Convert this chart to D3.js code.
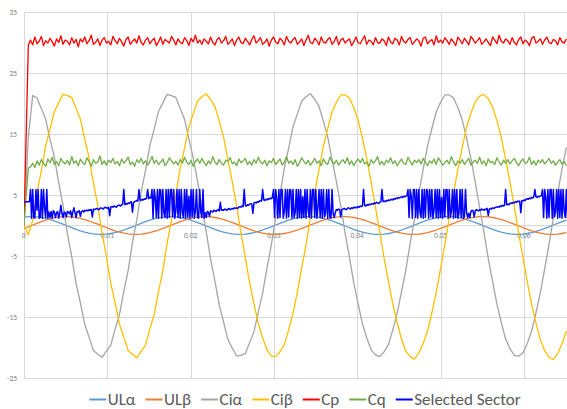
<!DOCTYPE html>
<html>
<head>
<meta charset="utf-8">
<script src="https://cdn.jsdelivr.net/npm/d3@7/dist/d3.min.js"></script>
<style>
  body { margin: 0; background: #fff; }
  svg { display: block; }
</style>
</head>
<body>
<div id="chart"></div>
<script>
// sample steps in seconds (smooth signals / noisy signals / sector signal)
var stepSlow = 1 / 1920;
var stepFast = 1 / 3840;
var stepSector = 1 / 7680;

var xTicks = [0, 0.01, 0.02, 0.03, 0.04, 0.05, 0.06];
var xTickLabels = ["0", "0.01", "0.02", "0.03", "0.04", "0.05", "0.06"];
var yTicks = [-25, -15, -5, 5, 15, 25, 35];

var names = ["ULα", "ULβ", "Ciα", "Ciβ", "Cp", "Cq", "Selected Sector"];
var colors = ["#5B9BD5", "#ED7D31", "#A5A5A5", "#FFC000", "#FF0000", "#70AD47", "#0000FF"];

var ulAlpha = [
  1.37, 1.44, 1.45, 1.41, 1.31, 1.16, 0.97, 0.74, 0.48, 0.21, -0.08, -0.36, -0.63, -0.87, -1.08, -1.25,
  -1.37, -1.44, -1.45, -1.41, -1.31, -1.16, -0.97, -0.74, -0.48, -0.21, 0.08, 0.36, 0.63, 0.87, 1.08, 1.25,
  1.37, 1.44, 1.45, 1.41, 1.31, 1.16, 0.97, 0.74, 0.48, 0.21, -0.08, -0.36, -0.63, -0.87, -1.08, -1.25,
  -1.37, -1.44, -1.45, -1.41, -1.31, -1.16, -0.97, -0.74, -0.48, -0.21, 0.08, 0.36, 0.63, 0.87, 1.08, 1.25,
  1.37, 1.44, 1.45, 1.41, 1.31, 1.16, 0.97, 0.74, 0.48, 0.21, -0.08, -0.36, -0.63, -0.87, -1.08, -1.25,
  -1.37, -1.44, -1.45, -1.41, -1.31, -1.16, -0.97, -0.74, -0.48, -0.21, 0.08, 0.36, 0.63, 0.87, 1.08, 1.25,
  1.37, 1.44, 1.45, 1.41, 1.31, 1.16, 0.97, 0.74, 0.48, 0.21, -0.08, -0.36, -0.63, -0.87, -1.08, -1.25,
  -1.37, -1.44, -1.45, -1.41, -1.31, -1.16, -0.97, -0.74, -0.48, -0.21, 0.08, 0.36, 0.63, 0.87
];
var ulBeta = [
  -0.48, -0.21, 0.08, 0.36, 0.63, 0.87, 1.08, 1.25, 1.37, 1.44, 1.45, 1.41, 1.31, 1.16, 0.97, 0.74,
  0.48, 0.21, -0.08, -0.36, -0.63, -0.87, -1.08, -1.25, -1.37, -1.44, -1.45, -1.41, -1.31, -1.16, -0.97, -0.74,
  -0.48, -0.21, 0.08, 0.36, 0.63, 0.87, 1.08, 1.25, 1.37, 1.44, 1.45, 1.41, 1.31, 1.16, 0.97, 0.74,
  0.48, 0.21, -0.08, -0.36, -0.63, -0.87, -1.08, -1.25, -1.37, -1.44, -1.45, -1.41, -1.31, -1.16, -0.97, -0.74,
  -0.48, -0.21, 0.08, 0.36, 0.63, 0.87, 1.08, 1.25, 1.37, 1.44, 1.45, 1.41, 1.31, 1.16, 0.97, 0.74,
  0.48, 0.21, -0.08, -0.36, -0.63, -0.87, -1.08, -1.25, -1.37, -1.44, -1.45, -1.41, -1.31, -1.16, -0.97, -0.74,
  -0.48, -0.21, 0.08, 0.36, 0.63, 0.87, 1.08, 1.25, 1.37, 1.44, 1.45, 1.41, 1.31, 1.16, 0.97, 0.74,
  0.48, 0.21, -0.08, -0.36, -0.63, -0.87, -1.08, -1.25, -1.37, -1.44, -1.45, -1.41, -1.31, -1.16
];
var ciAlpha = [
  0, 14.5, 21.3, 20.9, 19.2, 17.4, 14.1, 11.2, 7.0, 3.3, -1.3, -5.1, -9.5, -12.7, -16.2, -18.3,
  -20.5, -21.1, -21.6, -20.6, -19.6, -17.0, -14.6, -10.8, -7.4, -2.8, 0.9, 5.5, 9.0, 13.1, 15.8, 18.7,
  20.1, 21.5, 21.3, 21.0, 19.2, 17.4, 14.2, 11.1, 7.3, 2.9, -1.0, -5.5, -9.1, -13.0, -15.8, -18.7,
  -20.1, -21.4, -21.3, -21.0, -19.2, -17.4, -14.2, -11.1, -7.0, -3.2, 1.3, 5.1, 9.4, 12.7, 16.2, 18.3,
  20.4, 21.1, 21.6, 20.7, 19.5, 17.1, 14.5, 10.8, 7.2, 3.2, -1.2, -5.2, -9.4, -12.8, -16.1, -18.4,
  -20.4, -21.2, -21.5, -20.7, -19.5, -17.1, -14.4, -10.9, -7.3, -2.9, 1.0, 5.4, 9.2, 13.0, 15.9, 18.6,
  20.2, 21.4, 21.4, 20.9, 19.3, 17.3, 14.3, 11.0, 7.1, 3.0, -1.1, -5.4, -9.2, -12.9, -15.9, -18.6,
  -20.2, -21.3, -21.4, -20.9, -19.3, -17.3, -14.3, -11.0, -7.1, -3.1, 1.2, 5.3, 9.3, 12.8
];
var ciBeta = [
  0, -1.5, 0.8, 5.5, 9.0, 13.1, 15.8, 18.7, 20.1, 21.5, 21.3, 21.0, 19.2, 17.4, 14.2, 11.1,
  7.0, 3.3, -1.3, -5.1, -9.5, -12.7, -16.2, -18.3, -20.5, -21.1, -21.7, -20.6, -19.6, -17.0, -14.6, -10.8,
  -7.4, -2.8, 0.9, 5.1, 9.4, 12.7, 16.2, 18.3, 20.4, 21.1, 21.6, 20.7, 19.5, 17.1, 14.5, 10.8,
  7.2, 3.2, -1.2, -5.2, -9.4, -12.8, -16.1, -18.4, -20.4, -21.4, -21.5, -20.7, -19.5, -17.1, -14.4, -10.9,
  -7.0, -3.2, 1.3, 5.4, 9.2, 13.0, 15.9, 18.6, 20.2, 21.4, 21.4, 20.9, 19.3, 17.3, 14.3, 11.0,
  7.1, 3.0, -1.1, -5.4, -9.2, -12.9, -15.9, -18.6, -20.6, -21.5, -21.9, -20.9, -19.3, -17.3, -14.3, -11.0,
  -7.1, -3.1, 1.2, 5.3, 9.3, 12.8, 16.1, 18.4, 20.3, 21.2, 21.5, 20.8, 19.4, 17.2, 14.4, 10.9,
  7.2, 3.1, -1.2, -5.3, -9.3, -12.9, -16.0, -18.7, -20.5, -21.6, -22.0, -21.0, -19.4, -17.3
];

var cp = [
  0, 15, 29.6,
  30.4, 29.6, 30.9, 29.8, 30.2, 31.0, 29.5, 30.3, 29.9, 30.7, 30.1, 29.4, 30.6, 30.0, 31.1, 29.7, 30.4, 30.2, 29.6, 30.8,
  29.9, 30.5, 29.3, 30.6, 30.1, 30.9, 29.8, 30.3, 31.2, 29.7, 30.0, 30.6, 29.5, 30.4, 30.8, 29.9, 30.2, 29.6, 31.0, 30.3,
  29.8, 30.7, 30.1, 29.4, 30.5, 30.9, 29.7, 30.2, 30.6, 29.9, 31.1, 30.0, 29.6, 30.4, 30.8, 29.8, 30.3, 30.7, 29.5, 30.1,
  30.9, 29.7, 30.5, 30.2, 29.9, 31.0, 30.4, 29.6, 30.6, 30.0, 29.8, 30.8, 30.3, 29.5, 30.7, 30.1, 31.2, 29.9, 30.4, 29.7,
  30.6, 30.2, 29.8, 30.9, 30.0, 29.6, 30.5, 30.8, 29.9, 30.3, 31.0, 29.7, 30.1, 30.6, 29.5, 30.4, 30.9, 30.0, 29.8, 30.7,
  30.2, 29.6, 30.5, 31.1, 29.9, 30.3, 30.8, 29.7, 30.0, 30.6, 29.4, 30.4, 30.9, 30.1, 29.8, 30.7, 30.3, 29.6, 31.0, 30.2,
  29.9, 30.5, 30.8, 29.7, 30.1, 30.6, 29.5, 30.4, 31.2, 30.0, 29.8, 30.7, 30.3, 29.6, 30.9, 30.1, 29.9, 30.5, 30.8, 29.7,
  30.2, 31.0, 29.6, 30.4, 30.7, 29.9, 30.3, 30.6, 29.5, 30.1, 30.9, 30.0, 29.8, 30.5, 31.1, 29.7, 30.4, 30.2, 29.6, 30.8,
  30.0, 29.9, 30.6, 30.3, 29.5, 30.9, 30.1, 29.8, 30.7, 30.4, 29.6, 31.0, 30.2, 29.9, 30.5, 30.8, 29.7, 30.1, 30.6, 30.3,
  29.4, 30.7, 30.9, 29.8, 30.2, 30.5, 29.6, 31.1, 30.0, 30.4, 29.9, 30.8, 30.3, 29.7, 30.6, 30.1, 29.5, 30.9, 30.4, 29.8,
  30.7, 30.2, 29.6, 31.0, 30.5, 29.9, 30.3, 30.8, 29.7, 30.1, 30.6, 30.0, 29.5, 30.9, 30.4, 29.8, 31.2, 30.2, 29.9, 30.6,
  30.3, 29.7, 30.8, 30.0, 29.6, 30.5, 30.9, 29.8, 30.4, 30.1, 29.5, 30.7, 31.0, 29.9, 30.2, 30.6, 29.7, 30.4, 30.9, 30.0,
  29.8, 30.5, 30.3, 29.6, 30.8, 30.1, 29.9, 30.6
];
var cq = [
  0, 5, 9.4,
  9.6, 10.2, 9.5, 10.6, 9.9, 10.8, 10.1, 9.7, 10.9, 10.3, 11.2, 10.0, 10.5, 9.8, 11.0, 10.4, 10.1, 10.7, 9.9, 11.3,
  10.2, 10.6, 9.8, 10.9, 10.3, 10.0, 11.1, 10.5, 9.7, 10.8, 10.2, 10.4, 11.4, 10.0, 10.6, 9.9, 10.7, 10.3, 11.0, 10.1,
  10.5, 9.8, 10.9, 10.2, 10.6, 11.2, 10.0, 10.4, 9.7, 10.8, 10.3, 11.0, 10.1, 10.6, 9.9, 10.5, 11.3, 10.2, 10.7, 10.0,
  10.4, 10.9, 9.8, 10.3, 11.1, 10.6, 10.1, 10.5, 9.9, 10.8, 10.2, 11.2, 10.4, 10.0, 10.7, 9.7, 10.5, 10.9, 10.2, 11.0,
  10.3, 9.8, 10.6, 10.1, 11.3, 10.4, 10.0, 10.8, 10.2, 9.9, 10.7, 10.5, 11.1, 10.1, 10.4, 9.8, 10.9, 10.3, 10.6, 11.0,
  10.0, 10.5, 9.9, 10.8, 10.2, 11.2, 10.4, 10.1, 10.7, 9.8, 10.6, 10.3, 11.0, 10.0, 10.5, 10.9, 9.9, 10.4, 11.3, 10.2,
  10.6, 10.0, 10.8, 9.7, 10.3, 11.1, 10.5, 10.1, 10.7, 9.9, 10.4, 11.0, 10.2, 10.6, 9.8, 10.9, 10.3, 10.0, 11.2, 10.5,
  10.1, 10.7, 9.9, 10.4, 10.8, 10.2, 11.1, 10.0, 10.6, 9.8, 10.5, 10.9, 10.3, 11.0, 10.1, 10.4, 9.7, 10.8, 10.2, 10.6,
  11.3, 10.0, 10.5, 9.9, 10.7, 10.3, 11.1, 10.1, 10.6, 9.8, 10.4, 10.9, 10.2, 10.0, 11.2, 10.5, 9.9, 10.7, 10.3, 10.8,
  10.1, 11.0, 10.4, 9.8, 10.6, 10.2, 10.9, 10.0, 11.1, 10.5, 9.9, 10.3, 10.7, 10.1, 11.3, 10.4, 9.8, 10.6, 10.2, 10.8,
  10.0, 10.5, 11.0, 9.9, 10.4, 10.7, 10.2, 11.2, 10.1, 10.6, 9.8, 10.9, 10.3, 10.5, 10.0, 11.1, 10.4, 9.9, 10.7, 10.2,
  10.8, 10.1, 10.6, 11.0, 10.3, 9.8, 10.5, 10.9, 10.2, 10.4, 11.2, 10.0, 10.6, 9.9, 10.7, 10.3, 10.8, 10.1, 10.5, 11.0,
  10.2, 10.6, 9.9, 10.4, 10.8, 10.1, 10.5, 9.8
];
var sector = [
  3.9, 3.9, 3.9, 3.9, 3.9, 3.9,
  5.9, 1.2, 5.9, 1.3, 1.2, 5.9, 2.5, 5.9, 1.2, 1.4, 5.9, 1.2, 5.9, 2.8, 1.3, 5.9, 1.2, 2.2,
  1.3, 2.3, 1.2, 2.4, 2.2, 1.3, 2.1, 2.3, 1.2, 2.0, 3.3, 2.0, 1.3, 2.2, 2.1, 1.4, 2.3, 2.2, 1.9, 2.4, 1.3, 2.2, 2.9, 2.1, 1.3, 2.3, 2.2, 2.4, 1.5, 2.3, 2.4, 2.2, 2.5, 2.4,
  2.5, 2.4, 2.6, 2.5, 2.6, 1.4, 2.7, 2.6, 2.7, 2.8, 2.7, 2.6, 2.8, 2.9, 2.8, 2.7, 2.9, 3.0, 2.9, 2.8, 3.0, 1.6, 3.0, 3.1, 3.0, 3.2, 3.1, 3.0, 3.2, 3.3,
  3.3, 3.2, 3.4, 3.5, 5.9, 3.4, 3.6, 3.5, 3.7, 3.6, 3.8, 3.9, 2.2, 3.8, 3.9, 4.0, 4.1, 4.0, 5.9, 4.2, 4.1, 4.3, 4.2, 4.4, 4.3, 4.5, 5.9, 4.4, 4.6, 4.5,
  5.9, 1.2, 5.9, 4.6, 1.3, 5.9, 1.2, 5.9, 5.8, 1.2, 5.9, 2.0, 1.3, 5.9, 1.2, 5.9, 1.3, 5.9, 5.9, 1.4, 5.9, 1.2, 2.4, 5.9, 1.3,
  5.9, 1.2, 5.9, 2.0, 1.3, 5.9, 1.2, 5.9, 1.3, 4.8, 1.2, 5.9, 1.4, 5.9, 1.2, 2.3, 5.9, 1.3, 1.2, 5.9, 2.2, 1.3, 5.9, 1.2, 2.1,
  1.3, 2.3, 2.2, 1.5, 2.4, 2.3, 2.2, 2.5, 2.4, 2.3, 2.5, 2.6, 2.4, 3.8, 2.5, 2.6, 2.5, 2.7, 2.6, 2.5, 2.7, 2.8, 2.6, 2.7, 2.8, 2.7, 2.9, 2.8,
  2.9, 2.8, 3.0, 3.1, 3.0, 3.2, 3.1, 5.9, 3.3, 3.2, 3.4, 3.3, 3.5, 3.6, 3.5, 2.0, 3.7, 3.8, 3.7, 3.9, 3.8, 4.0, 4.1, 4.0, 5.9, 4.2, 4.1, 4.3, 4.2, 4.4, 4.3, 4.5, 4.4, 4.6,
  5.9, 1.3, 5.9, 4.5, 1.2, 5.9, 1.3, 5.9, 5.9, 1.2, 2.3, 5.9, 1.2, 5.9, 1.4, 5.9, 5.8, 1.2, 5.9, 1.3, 2.1, 5.9, 1.2, 5.9, 1.3, 5.9, 1.2, 4.7, 1.3,
  5.9, 1.2, 5.9, 2.5, 1.3, 5.9, 1.2, 5.9, 5.9, 1.3, 5.9, 1.2, 3.0, 5.9, 1.3, 5.9, 1.2, 5.9, 1.4, 2.0, 5.9, 1.2, 5.9, 1.3, 1.2, 5.9, 1.9, 1.3, 2.2,
  2.6, 2.5, 2.7, 2.6, 1.4, 2.6, 2.7, 2.8, 2.7, 2.6, 2.8, 2.9, 2.8, 2.7, 2.9, 2.8, 3.0, 2.9,
  3.0, 2.9, 3.1, 3.0, 3.2, 3.1, 3.2, 5.9, 3.3, 3.2, 3.4, 3.3, 3.5, 3.4, 3.5, 3.6, 3.5, 3.7, 3.6, 3.8, 3.7, 3.6, 3.8, 3.9,
  5.9, 3.9, 4.0, 3.9, 4.1, 4.0, 4.2, 4.1, 4.2, 4.3, 4.2, 4.4, 4.3, 4.5, 4.4, 4.6, 4.5, 4.6, 4.7, 4.6, 4.8, 4.7, 4.8, 4.9,
  5.9, 1.3, 5.9, 4.8, 1.2, 5.9, 5.9, 1.3, 5.9, 1.2, 5.9, 2.2, 1.3, 5.9, 1.2, 5.9, 1.3, 5.9, 5.8, 1.2, 5.9, 1.4, 5.9, 1.2, 2.5, 5.9, 1.3, 5.9, 1.2,
  5.9, 1.3, 4.6, 1.2, 5.9, 1.4, 5.9, 5.9, 1.2, 5.9, 1.3, 2.4, 5.9, 1.2, 5.9, 1.3, 5.9, 1.2, 2.0, 5.9, 1.3, 5.9, 1.2, 1.4, 5.9, 2.1, 1.3, 2.0, 1.3,
  2.3, 2.5, 2.4, 1.4, 2.4, 2.6, 2.5, 2.4, 2.6, 2.5, 2.7, 2.6, 2.5, 2.7, 2.6, 2.8, 1.6, 2.7, 2.8, 2.7, 2.9, 2.8, 2.9, 3.0,
  3.0, 3.1, 3.0, 3.2, 3.1, 3.3, 3.2, 3.3, 5.9, 3.4, 3.5, 3.4, 3.6, 3.7, 3.6, 3.8, 3.7, 3.9, 3.8, 4.0, 3.9,
  4.0, 2.1, 4.1, 4.0, 4.2, 4.1, 4.3, 4.4, 4.3, 4.5, 4.4, 4.6, 4.5, 4.7, 5.9, 4.7, 4.6, 4.8, 4.7, 4.8, 4.9,
  5.9, 1.3, 5.9, 4.7, 1.2, 5.9, 1.3, 5.9, 5.9, 1.2, 5.9, 1.4, 2.2, 5.9, 1.2, 5.9, 1.3, 5.9, 1.2, 5.9, 2.4, 1.3, 5.9, 1.2
];

var seriesValues = [ulAlpha, ulBeta, ciAlpha, ciBeta, cp, cq, sector];
var seriesSteps = [stepSlow, stepSlow, stepSlow, stepSlow, stepFast, stepFast, stepSector];

var width = 567, height = 409;

var svg = d3.select("#chart")
  .append("svg")
    .attr("width", width)
    .attr("height", height)
    .style("background", "#fff");

var x = d3.scaleLinear()
  .domain([0, 0.065])
  .range([24, 565.5]);

var y = d3.scaleLinear()
  .domain([-25, 35])
  .range([378, 12]);

var plotLeft = 24, plotRight = 567;

// gridlines
svg.append("g")
  .selectAll("line")
  .data(yTicks)
  .enter()
  .append("line")
    .attr("x1", plotLeft)
    .attr("x2", plotRight)
    .attr("y1", function(d) { return Math.round(y(d)) + 0.5; })
    .attr("y2", function(d) { return Math.round(y(d)) + 0.5; })
    .attr("stroke", "#d9d9d9")
    .attr("stroke-width", 1);

svg.append("g")
  .selectAll("line")
  .data(xTicks)
  .enter()
  .append("line")
    .attr("x1", function(d) { return Math.round(x(d)) + 0.5; })
    .attr("x2", function(d) { return Math.round(x(d)) + 0.5; })
    .attr("y1", y(35))
    .attr("y2", y(-25))
    .attr("stroke", "#d9d9d9")
    .attr("stroke-width", 1);

// horizontal axis line at 0
svg.append("line")
  .attr("x1", plotLeft)
  .attr("x2", plotRight)
  .attr("y1", Math.round(y(0)) + 0.5)
  .attr("y2", Math.round(y(0)) + 0.5)
  .attr("stroke", "#d9d9d9")
  .attr("stroke-width", 1);

// Y tick labels
svg.append("g")
  .selectAll("text")
  .data(yTicks)
  .enter()
  .append("text")
    .attr("x", 17)
    .attr("y", function(d) { return y(d) + 2.5; })
    .attr("text-anchor", "end")
    .style("font-family", "Carlito, 'Liberation Sans', sans-serif")
    .style("font-size", "7.5px")
    .style("fill", "#7f7f7f")
    .text(function(d) { return d; });

// X tick labels
svg.append("g")
  .selectAll("text")
  .data(xTicks)
  .enter()
  .append("text")
    .attr("x", function(d) { return x(d); })
    .attr("y", y(0) + 12.5)
    .attr("text-anchor", "middle")
    .style("font-family", "Carlito, 'Liberation Sans', sans-serif")
    .style("font-size", "7.5px")
    .style("fill", "#7f7f7f")
    .text(function(d, i) { return xTickLabels[i]; });

// clip
svg.append("clipPath")
  .attr("id", "plotClip")
  .append("rect")
    .attr("x", plotLeft)
    .attr("y", 0)
    .attr("width", plotRight - plotLeft)
    .attr("height", y(-25) + 2);

var lines = svg.append("g").attr("clip-path", "url(#plotClip)");

names.forEach(function(name, s) {
  var step = seriesSteps[s];
  var line = d3.line()
    .x(function(d, i) { return x(i * step); })
    .y(function(d) { return y(d); });
  lines.append("path")
    .datum(seriesValues[s])
    .attr("fill", "none")
    .attr("stroke", colors[s])
    .attr("stroke-width", s === 6 ? 1.5 : 1.3)
    .attr("stroke-linejoin", "round")
    .attr("d", line);
});

// legend
var legend = svg.append("g");
var lx = 0;
names.forEach(function(name, s) {
  var item = legend.append("g").attr("transform", "translate(" + lx + ",0)");
  item.append("line")
    .attr("x1", 0).attr("x2", 17)
    .attr("y1", 0).attr("y2", 0)
    .attr("stroke", colors[s])
    .attr("stroke-width", 2);
  var t = item.append("text")
    .attr("x", 18.5)
    .attr("y", 5)
    .style("font-family", "Carlito, 'Open Sans', sans-serif")
    .style("font-size", "17px")
    .style("fill", "#595959")
    .text(name);
  lx += 18.5 + t.node().getComputedTextLength() + 10;
});
var legendW = lx - 10;
legend.attr("transform", "translate(" + (305 - legendW / 2) + ",399.5)");
</script>
</body>
</html>
